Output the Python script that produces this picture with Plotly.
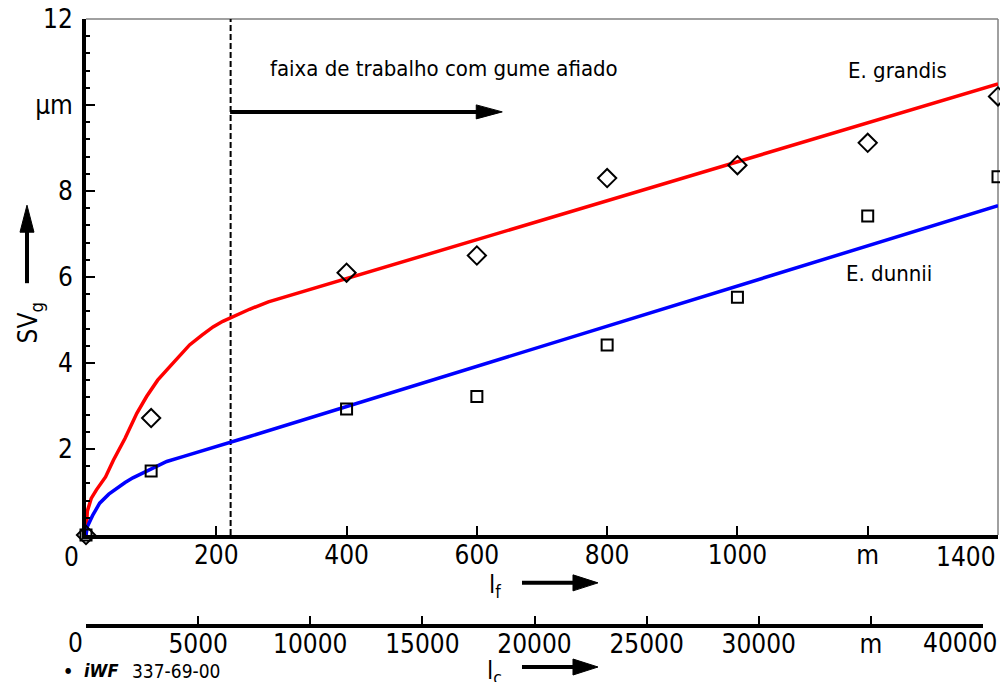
import plotly.graph_objects as go

# ---------------- data ----------------
# measured points: E. grandis (diamonds) and E. dunnii (squares)
lf_points = [0, 100, 400, 600, 800, 1000, 1200, 1400]
grandis_pts = [0, 2.72, 6.1, 6.5, 8.3, 8.6, 9.12, 10.2]
dunnii_pts = [0, 1.49, 2.93, 3.22, 4.42, 5.53, 7.42, 8.33]

# fitted curves
grandis_curve_x = [0, 2, 8, 16, 30, 42, 60, 78, 93, 110, 129, 145, 159, 178, 195, 210, 226, 251, 280, 1400]
grandis_curve_y = [0, 0.55, 0.85, 1.05, 1.35, 1.74, 2.25, 2.83, 3.22, 3.6, 3.92, 4.2, 4.42, 4.65, 4.84, 4.97, 5.08, 5.25, 5.42, 10.49]
dunnii_curve_x = [0, 2, 10, 21, 35, 47, 60, 72, 98, 124, 150, 175, 251, 1400]
dunnii_curve_y = [0, 0.19, 0.45, 0.74, 0.95, 1.09, 1.22, 1.33, 1.51, 1.71, 1.83, 1.94, 2.29, 7.66]

# limit of the sharp-edge working range
sharp_limit = 222
range_arrow_end = 639
range_arrow_y = 9.84

# tick labels
y_tickvals = [2, 4, 6, 8, 10, 12]
y_ticktext = ["2", "4", "6", "8", "µm", "12"]
lf_tickvals = [200, 400, 600, 800, 1000, 1200]
lf_ticktext = ["200", "400", "600", "800", "1000", "m"]
lc_tickvals = [0, 5000, 10000, 15000, 20000, 25000, 30000, 35000, 40000]
lc_ticktext = ["", "5000", "10000", "15000", "20000", "25000", "30000", "m", ""]

FONT = "DejaVu Sans Condensed, Liberation Sans Narrow, sans-serif"
TICKFONT = dict(family=FONT, size=26, color="black")

fig = go.Figure()

fig.add_trace(go.Scatter(x=[sharp_limit, sharp_limit], y=[0, 12], mode="lines",
                         line=dict(color="black", width=2, dash="6px,3px"),
                         hoverinfo="skip", showlegend=False))
fig.add_trace(go.Scatter(x=grandis_curve_x, y=grandis_curve_y, mode="lines",
                         line=dict(color="#ff0000", width=3.5), showlegend=False, cliponaxis=False))
fig.add_trace(go.Scatter(x=dunnii_curve_x, y=dunnii_curve_y, mode="lines",
                         line=dict(color="#0000ff", width=3.5), showlegend=False, cliponaxis=False))
fig.add_trace(go.Scatter(x=lf_points, y=grandis_pts, mode="markers",
                         marker=dict(symbol="diamond-open", size=14, color="black", line=dict(width=2)),
                         showlegend=False, cliponaxis=False))
fig.add_trace(go.Scatter(x=lf_points, y=dunnii_pts, mode="markers",
                         marker=dict(symbol="square-open", size=11, color="black", line=dict(width=2)),
                         showlegend=False, cliponaxis=False))
# invisible trace so that the second (l_c) axis gets drawn
fig.add_trace(go.Scatter(x=[lc_tickvals[0]], y=[0], xaxis="x2", yaxis="y2", mode="markers",
                         marker=dict(opacity=0), hoverinfo="skip", showlegend=False))

annotations = []
shapes = []


def add_text(text, x, y, xref, yref, size=26, xanchor="center", textangle=0):
    annotations.append(dict(text=text, x=x, y=y, xref=xref, yref=yref, showarrow=False,
                            xanchor=xanchor, yanchor="middle", textangle=textangle,
                            font=dict(family=FONT, size=size, color="black")))


def add_arrow(xref, yref, xa, ya, direction, length, head=26, half=7, width=4):
    # tip at (xa, ya); pixel offsets relative to the tip
    if direction == "right":
        x0, y0, x1, y1 = -length, 0, -head + 2, 0
        path = f"M0,0 L{-head},{half} L{-head},{-half} Z"
    else:  # up
        x0, y0, x1, y1 = 0, -length, 0, -head + 2
        path = f"M0,0 L{-half},{-head} L{half},{-head} Z"
    shapes.append(dict(type="line", xref=xref, yref=yref, xsizemode="pixel", ysizemode="pixel",
                       xanchor=xa, yanchor=ya, x0=x0, y0=y0, x1=x1, y1=y1,
                       line=dict(color="black", width=width)))
    shapes.append(dict(type="path", xref=xref, yref=yref, xsizemode="pixel", ysizemode="pixel",
                       xanchor=xa, yanchor=ya, path=path, fillcolor="black",
                       line=dict(color="black", width=1)))


# frame top / right (thin grey)
shapes.append(dict(type="line", xref="x domain", yref="y domain", x0=0, x1=1, y0=1, y1=1,
                   line=dict(color="#808080", width=1.5), layer="below"))
shapes.append(dict(type="line", xref="x domain", yref="y domain", x0=1, x1=1, y0=0, y1=1,
                   line=dict(color="#808080", width=1.5), layer="below"))

# texts in plot
add_text("faixa de trabalho com gume afiado", 550, 10.86, "x", "y", size=22)
add_text("E. grandis", 1246, 10.81, "x", "y", size=22)
add_text("E. dunnii", 1233, 6.09, "x", "y", size=22)
add_arrow("x", "y", range_arrow_end, range_arrow_y, "right", (range_arrow_end - sharp_limit) * 0.6527)

# end tick labels shifted inwards
add_text("0", -0.0164, 0.111, "paper", "paper")
add_text("1400", 0.965, 0.111, "paper", "paper")
add_text("0", -0.011, -0.031, "paper", "paper")
add_text("40000", 0.958, -0.031, "paper", "paper")

# axis titles
add_text("l<sub>f</sub>", 0.448, 0.062, "paper", "paper", size=25)
add_arrow("paper", "paper", 0.5614, 0.068, "right", 76, head=25, half=8)
add_text("l<sub>c</sub>", 0.448, -0.079, "paper", "paper", size=25)
add_arrow("paper", "paper", 0.5614, -0.0711, "right", 76, head=25, half=8)
add_text("SV<sub>g</sub>", -0.062, 4.93, "paper", "y", size=26, textangle=-90)
add_arrow("paper", "y", -0.0647, 7.67, "up", 78, head=27, half=7)

# footer
add_text("●", -0.0197, -0.077, "paper", "paper", size=8)
add_text("<b><i>iWF</i></b>", 0.016, -0.077, "paper", "paper", size=18)
add_text("337-69-00", 0.048, -0.077, "paper", "paper", size=19, xanchor="left")

fig.update_layout(
    width=1000, height=682,
    margin=dict(l=86, r=2, t=19, b=58),
    paper_bgcolor="white", plot_bgcolor="white",
    showlegend=False,
    annotations=annotations, shapes=shapes,
    xaxis=dict(domain=[0, 1], range=[0, 1400], anchor="y",
               showline=True, linewidth=4, linecolor="black", showgrid=False, zeroline=False,
               ticks="inside", ticklen=9, tickwidth=2, tickcolor="black",
               tickmode="array", tickvals=lf_tickvals, ticktext=lf_ticktext,
               tickfont=TICKFONT, ticklabelstandoff=-6, ticklabeloverflow="allow"),
    yaxis=dict(domain=[89 / 605, 1], range=[0, 12], anchor="x",
               showline=True, linewidth=4, linecolor="black", showgrid=False, zeroline=False,
               ticks="inside", ticklen=9, tickwidth=2, tickcolor="black",
               tickmode="array", tickvals=y_tickvals, ticktext=y_ticktext,
               tickfont=TICKFONT, ticklabelstandoff=4, ticklabeloverflow="allow",
               minor=dict(tickvals=[v * 0.4 for v in range(1, 30)], ticks="inside", ticklen=4,
                          tickwidth=2, tickcolor="black")),
    xaxis2=dict(domain=[0, 897 / 912], range=[0, 40000], anchor="y2",
                showline=True, linewidth=4, linecolor="black", showgrid=False, zeroline=False,
                ticks="inside", ticklen=8, tickwidth=2, tickcolor="black",
                tickmode="array", tickvals=lc_tickvals, ticktext=lc_ticktext,
                tickfont=TICKFONT, ticklabelstandoff=-6, ticklabeloverflow="allow"),
    yaxis2=dict(domain=[0, 0.01], anchor="x2", visible=False, range=[0, 1]),
)

# remove the default 8 px page margin so the 1000x682 figure fills the window exactly
fig.write_html("out.html", config={"displayModeBar": False},
               post_script="document.body.style.margin='0px';document.body.style.overflow='hidden';")
